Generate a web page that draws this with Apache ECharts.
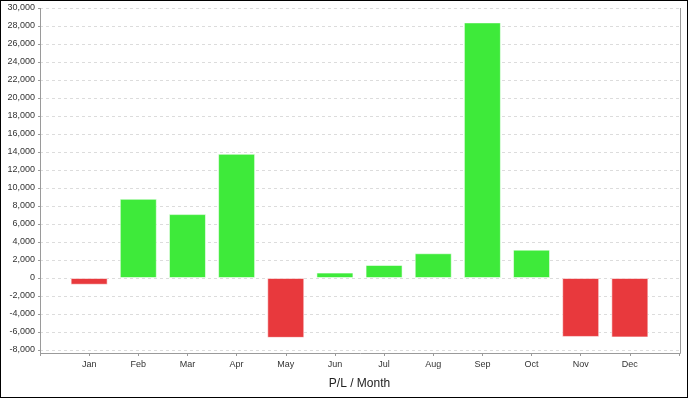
<!DOCTYPE html>
<html>
<head>
<meta charset="utf-8">
<script src="https://cdn.jsdelivr.net/npm/echarts@6/dist/echarts.min.js"></script>
<style>
    html, body { margin: 0; padding: 0; background: #fff; }
    #chart { width: 688px; height: 398px; box-sizing: border-box; border: 1px solid #000; }
</style>
</head>
<body>
<div id="chart"></div>
<script type="text/javascript">
    // 数据
    var months = ['Jan', 'Feb', 'Mar', 'Apr', 'May', 'Jun', 'Jul', 'Aug', 'Sep', 'Oct', 'Nov', 'Dec'];
    var profit = [-750, 8800, 7100, 13800, -6650, 600, 1450, 2750, 28400, 3150, -6550, -6600];
    var yMin = -8000, yMax = 30000, yStep = 2000;
    var axisTitle = 'P/L / Month';

    var green = '#3eea3a', red = '#e8393d';

    // 两端留半格空位
    var cats = [''].concat(months, ['']);
    var values = [null].concat(profit, [null]);

    var myChart = echarts.init(document.getElementById('chart'));
    var option = {
        animation: false,
        textStyle: { fontFamily: 'Liberation Sans, Arial, sans-serif' },
        grid: { left: 39, right: 8, top: 7, bottom: 47 },
        graphic: [{
            type: 'polyline',
            shape: { points: [[39.5, 7], [39.5, 352.5], [679.5, 352.5], [679.5, 7]] },
            style: { stroke: '#9a9a9a', lineWidth: 1, fill: null },
            z: 10
        }],
        xAxis: {
            type: 'category',
            data: cats,
            boundaryGap: false,
            offset: 3,
            axisLine: { show: false, onZero: false },
            axisTick: { show: true, length: 3, lineStyle: { color: '#9a9a9a' } },
            axisLabel: { color: '#333', fontSize: 9, margin: 7, interval: 0 },
            splitLine: { show: false },
            name: axisTitle,
            nameLocation: 'middle',
            nameGap: 25,
            nameTextStyle: { color: '#222', fontSize: 12 }
        },
        yAxis: {
            type: 'value',
            min: yMin,
            max: yMax,
            interval: yStep,
            axisLine: { show: false },
            axisTick: { show: true, length: 2, lineStyle: { color: '#9a9a9a' } },
            axisLabel: {
                color: '#333', fontSize: 9, margin: 5,
                formatter: function (v) { return v.toLocaleString('en-US'); }
            },
            splitLine: { show: true, lineStyle: { color: '#dcdcdc', type: [3, 3] } }
        },
        series: [{
            type: 'bar',
            data: values,
            barWidth: 37,
            itemStyle: {
                color: function (p) { return p.value < 0 ? red : green; },
                borderColor: 'rgba(255,255,255,0.55)',
                borderWidth: 1
            }
        }]
    };
    myChart.setOption(option);
</script>
</body>
</html>
